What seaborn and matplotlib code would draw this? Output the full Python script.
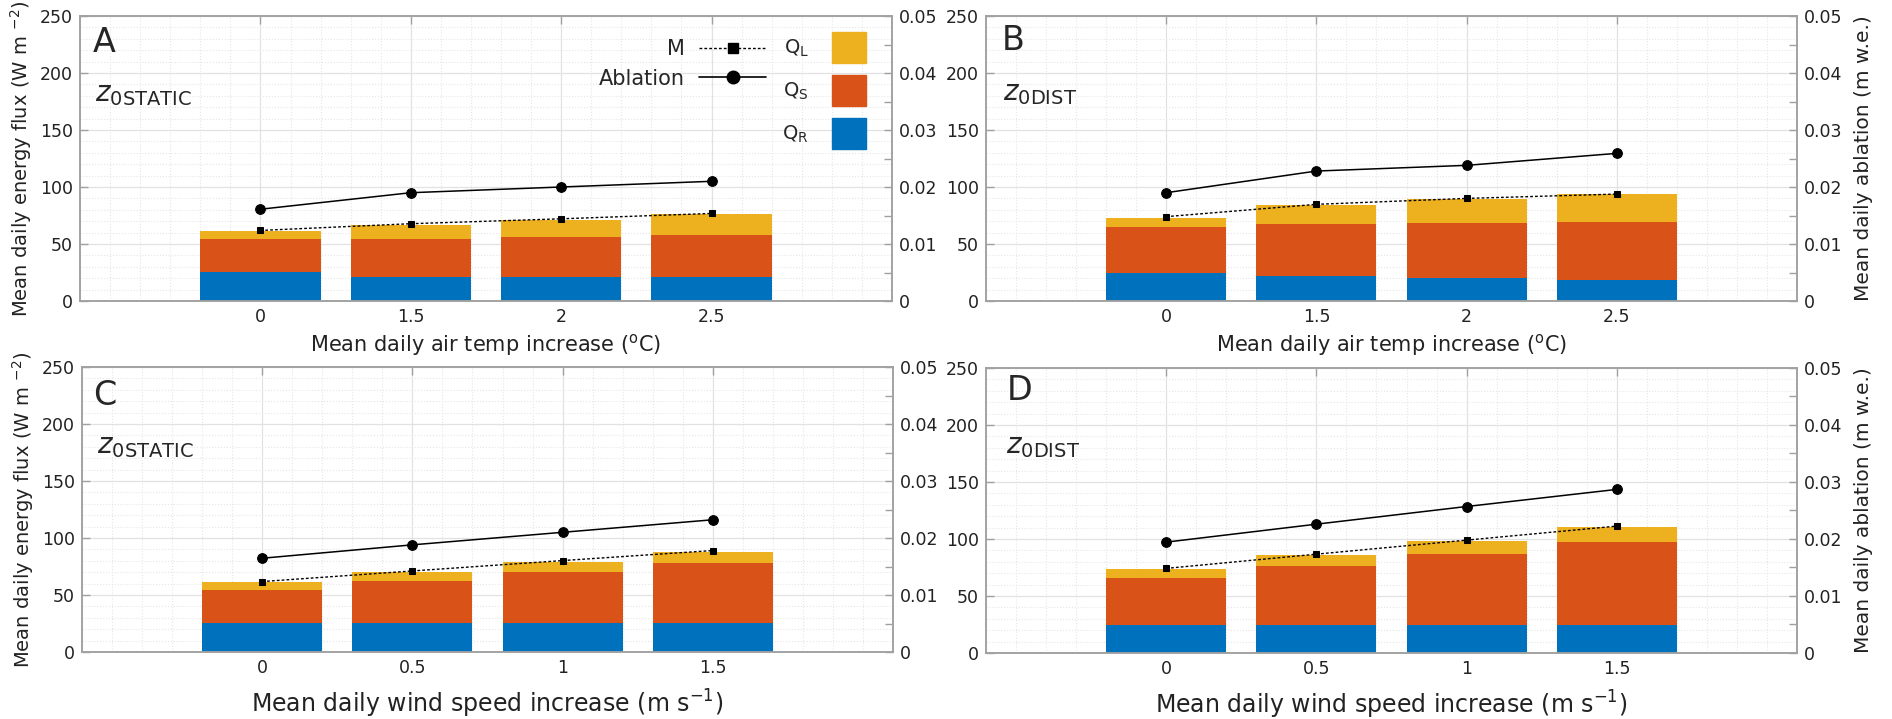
import numpy as np
import pandas as pd
import matplotlib
matplotlib.use("Agg")
import matplotlib.pyplot as plt
import seaborn as sns
from matplotlib.lines import Line2D
from matplotlib.patches import Patch
from matplotlib.ticker import MultipleLocator

# x categories
temp_levels = ["0", "1.5", "2", "2.5"]
wind_levels = ["0", "0.5", "1", "1.5"]

# Panel A - air temp, z0 static (W m-2 components, M in W m-2, ablation in m w.e.)
a_qr = [25.1, 21.3, 21.0, 21.0]
a_qs = [29.5, 33.3, 35.0, 36.8]
a_ql = [6.4, 12.3, 15.3, 18.1]
a_m = [61.9, 67.8, 72.1, 76.8]
a_abl = [0.0161, 0.0190, 0.0200, 0.0210]

# Panel B - air temp, z0 dist
b_qr = [24.5, 21.6, 20.4, 18.6]
b_qs = [40.8, 46.0, 48.4, 50.5]
b_ql = [7.8, 16.9, 20.7, 24.4]
b_m = [74.0, 84.8, 90.0, 93.8]
b_abl = [0.0190, 0.0228, 0.0238, 0.0259]

# Panel C - wind speed, z0 static
c_qr = [25.2, 25.2, 25.2, 25.2]
c_qs = [29.5, 37.4, 45.4, 53.3]
c_ql = [6.5, 7.7, 8.7, 9.6]
c_m = [61.8, 71.1, 80.2, 89.0]
c_abl = [0.01645, 0.0188, 0.0210, 0.0232]

# Panel D - wind speed, z0 dist
d_qr = [24.5, 24.5, 24.5, 24.5]
d_qs = [40.9, 51.4, 62.2, 73.0]
d_ql = [7.9, 10.0, 11.4, 12.9]
d_m = [74.2, 86.7, 99.0, 111.3]
d_abl = [0.01945, 0.0226, 0.0257, 0.0287]

COL_R = "#0072BD"
COL_S = "#D95319"
COL_L = "#EDB120"
SPINE = "#a0a0a0"
M_DASH = (0, (2, 1.5))

sns.set_theme(style="whitegrid")
plt.rcParams["font.family"] = ["DejaVu Sans"]
plt.rcParams["mathtext.fontset"] = "dejavusans"
plt.rcParams["axes.edgecolor"] = SPINE
plt.rcParams["axes.linewidth"] = 1.1

fig = plt.figure(figsize=(18.92, 7.19), dpi=100)


def draw_panel(rect, levels, qr, qs, ql, m, abl, letter, zlab, xlabel, xsize,
               xpad, left_label, right_label, letter_pos, z_pos, legend=False):
    ax = fig.add_axes(rect)
    qrs = np.add(qr, qs)
    df = pd.DataFrame({"level": levels, "QR": qr, "QRS": qrs,
                       "QRSL": qrs + np.array(ql)})
    # stacked bars: draw cumulative totals from the top down
    for col, c in [("QRSL", COL_L), ("QRS", COL_S), ("QR", COL_R)]:
        sns.barplot(data=df, x="level", y=col, order=levels, color=c,
                    saturation=1, width=0.8, linewidth=0, errorbar=None, ax=ax)
    pos = np.arange(len(levels))
    sns.lineplot(x=pos, y=m, ax=ax, color="black", linestyle=M_DASH,
                 linewidth=1.0, marker="s", markersize=5,
                 markeredgecolor="black", zorder=5)

    ax2 = ax.twinx()
    sns.lineplot(x=pos, y=abl, ax=ax2, color="black", linewidth=1.1,
                 marker="o", markersize=7, markeredgecolor="black")

    ax.set_xlim(-1.2, 4.2)
    ax.set_ylim(0, 250)
    ax.set_xticks(pos)
    ax.set_xticklabels(levels)
    ax.set_yticks(np.arange(0, 251, 50))
    ax.xaxis.set_minor_locator(MultipleLocator(0.2))
    ax.yaxis.set_minor_locator(MultipleLocator(10))
    ax.grid(which="major", color="#e2e2e2", linewidth=0.9, linestyle="-")
    ax.grid(which="minor", color="#e6e6e6", linewidth=0.8, linestyle=":")
    ax.set_axisbelow(True)
    ax.tick_params(axis="both", which="major", direction="in", length=6,
                   width=1, color=SPINE, labelsize=12.5, labelcolor="#222222",
                   top=True, pad=5)
    ax.tick_params(which="minor", length=0)

    ax2.set_ylim(0, 0.05)
    yt = [0, 0.01, 0.02, 0.03, 0.04, 0.05]
    ax2.set_yticks(yt)
    ax2.set_yticklabels([f"{v:g}" for v in yt])
    ax2.yaxis.set_minor_locator(MultipleLocator(0.005))
    ax2.grid(False)
    ax2.tick_params(axis="y", which="major", direction="in", length=6,
                    width=1, color=SPINE, labelsize=12.5, labelcolor="#222222",
                    pad=5)
    ax2.tick_params(axis="y", which="minor", direction="in", length=6,
                    width=1, color=SPINE)
    for sp in ax2.spines.values():
        sp.set_color(SPINE)

    ax.set_xlabel(xlabel, fontsize=xsize, labelpad=xpad, color="#222222")
    ax.set_ylabel(left_label, fontsize=14, labelpad=4, color="#222222")
    ax2.set_ylabel(right_label, fontsize=14.5, labelpad=8, color="#222222")

    ax2.text(letter_pos[0], letter_pos[1], letter, transform=ax.transAxes,
             fontsize=24, va="baseline", ha="left")
    ax2.text(z_pos[0], z_pos[1], zlab, transform=ax.transAxes,
             fontsize=20, va="baseline", ha="left")

    if legend:
        line_handles = [
            Line2D([], [], color="black", linestyle=M_DASH, linewidth=1,
                   marker="s", markersize=7.5),
            Line2D([], [], color="black", linewidth=1.2, marker="o",
                   markersize=9),
        ]
        leg1 = ax2.legend(handles=line_handles, labels=["M", "Ablation"],
                          loc="upper right", bbox_to_anchor=(0.845, 0.918),
                          frameon=False, markerfirst=False, fontsize=15,
                          handlelength=3.2, handletextpad=0.7,
                          labelspacing=0.45, borderpad=0, borderaxespad=0)
        ax2.add_artist(leg1)
        patch_handles = [Patch(color=COL_L), Patch(color=COL_S),
                         Patch(color=COL_R)]
        ax2.legend(handles=patch_handles,
                   labels=[r"Q$_{\mathregular{L}}$", r"Q$_{\mathregular{S}}$",
                           r"Q$_{\mathregular{R}}$"],
                   loc="upper right", bbox_to_anchor=(0.968, 0.944),
                   frameon=False, markerfirst=False, fontsize=14,
                   handlelength=1.75, handleheight=2.1, handletextpad=1.2,
                   labelspacing=0.6, borderpad=0, borderaxespad=0)
    return ax, ax2


flux_label = r"Mean daily energy flux (W m $^{\mathregular{-2}}$)"
abl_label = "Mean daily ablation (m w.e.)"
temp_label = r"Mean daily air temp increase ($^{\mathregular{o}}$C)"
wind_label = r"Mean daily wind speed increase (m s$^{\mathregular{-1}}$)"
z_static = r"$z_{\mathregular{0STATIC}}$"
z_dist = r"$z_{\mathregular{0DIST}}$"

draw_panel([0.04228, 0.58136, 0.42918, 0.39638], temp_levels,
           a_qr, a_qs, a_ql, a_m, a_abl, "A", z_static, temp_label, 15, 4,
           flux_label, "", (0.016, 0.873), (0.018, 0.70), legend=True)
draw_panel([0.52114, 0.58136, 0.42865, 0.39638], temp_levels,
           b_qr, b_qs, b_ql, b_m, b_abl, "B", z_dist, temp_label, 15, 4,
           "", abl_label, (0.019, 0.879), (0.021, 0.706))
draw_panel([0.04334, 0.09318, 0.42865, 0.39638], wind_levels,
           c_qr, c_qs, c_ql, c_m, c_abl, "C", z_static, wind_label, 17, 8,
           flux_label, "", (0.014, 0.867), (0.018, 0.698))
draw_panel([0.52114, 0.0918, 0.42865, 0.39638], wind_levels,
           d_qr, d_qs, d_ql, d_m, d_abl, "D", z_dist, wind_label, 17, 8,
           "", abl_label, (0.025, 0.888), (0.025, 0.70))

fig.savefig("out.png", dpi=100, facecolor="white")
